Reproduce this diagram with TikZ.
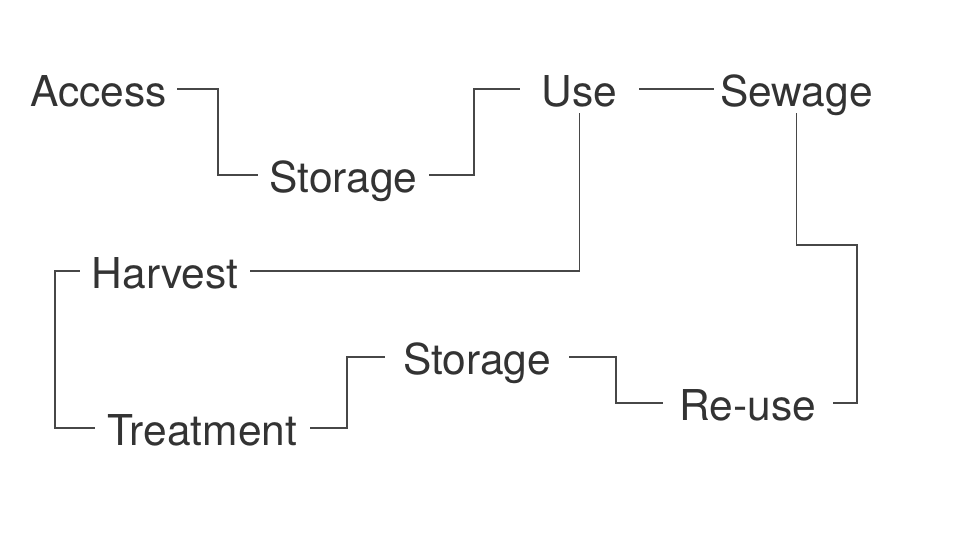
\documentclass[tikz,border=0pt]{standalone}
\usepackage{fontspec}
\setmainfont{TeX Gyre Heros}
\usepackage{xcolor}
\usepackage{tikz}
\definecolor{wcink}{HTML}{333333}
\definecolor{wcwire}{HTML}{474747}
\tikzset{
  wcstage/.style={text=wcink, font=\fontsize{42.5}{50}\selectfont, text height=35pt, text depth=0pt, inner ysep=6.5pt, inner xsep=0pt, align=center},
  wclink/.style={line width=1.5pt, draw=wcwire, line cap=butt, line join=miter},
}

\begin{document}
\begin{tikzpicture}[x=1pt,y=-1pt]
\useasboundingbox (0,0) rectangle (960,540);
\node[wcstage, minimum width=157pt] (access) at (98.5,89) {Access};
\node[wcstage, minimum width=171pt] (store1) at (343.5,175) {Storage};
\node[wcstage, minimum width=119pt] (use) at (579.5,89) {Use};
\node[wcstage, minimum width=165pt] (sewage) at (796.5,89) {Sewage};
\node[wcstage, minimum width=170pt] (harvest) at (165,271) {Harvest};
\node[wcstage, minimum width=215pt] (treat) at (202.5,428) {Treatment};
\node[wcstage, minimum width=184pt] (store2) at (477,357) {Storage};
\node[wcstage, minimum width=170pt] (reuse) at (748,403) {Re-use};
\draw[wclink] (access.east) -- ++(41,0) |- (store1.west);
\draw[wclink] (store1.east) -- ++(45,0) |- (use.west);
\draw[wclink] (use.east) -- (sewage.west);
\draw[wclink] (sewage.south) |- (857,245) |- (reuse.east);
\draw[wclink] (use.south) |- (harvest.east);
\draw[wclink] (harvest.west) -- ++(-25,0) |- (treat.west);
\draw[wclink] (treat.east) -- ++(37,0) |- (store2.west);
\draw[wclink] (store2.east) -- ++(47,0) |- (reuse.west);
\end{tikzpicture}
\end{document}
